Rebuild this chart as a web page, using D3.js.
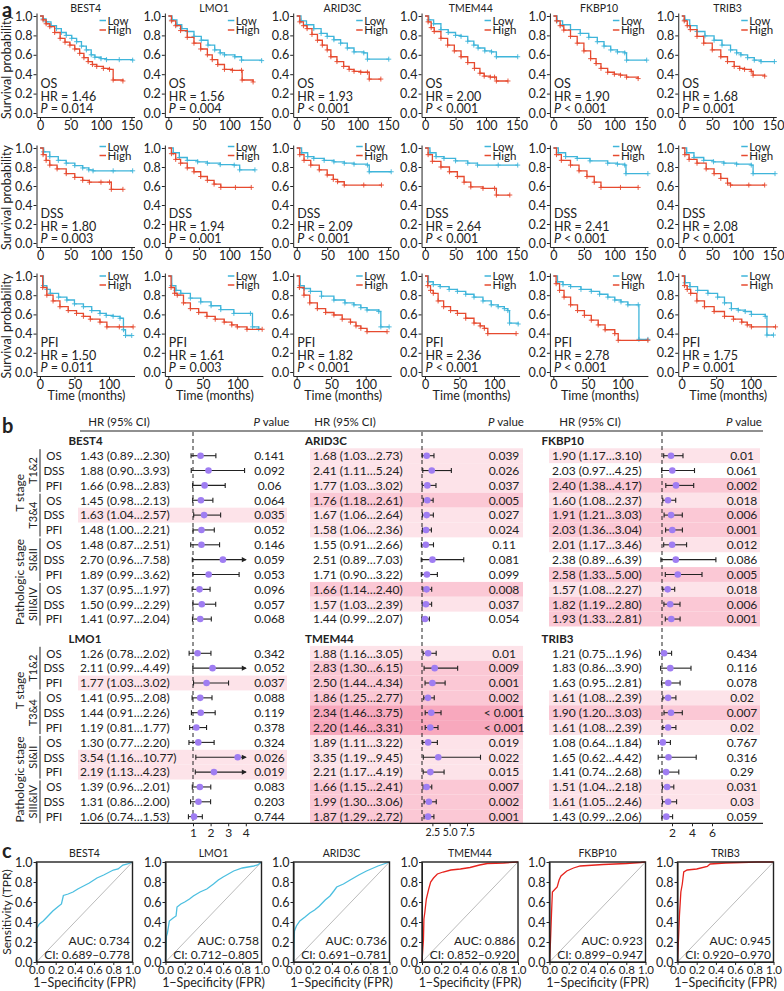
<!DOCTYPE html>
<html><head><meta charset="utf-8">
<script src="https://d3js.org/d3.v7.min.js"></script>
<style>
body{margin:0;background:#fff;}
svg text{font-family:Lato,'Open Sans',sans-serif;fill:#222;}
</style></head>
<body><svg width="784" height="991"></svg>
<script>
// ---------------- DATA ----------------
const kmGenes = ["BEST4","LMO1","ARID3C","TMEM44","FKBP10","TRIB3"];
const kmEndpoints = ["OS","DSS","PFI"];
const kmHR = [["1.46","1.56","1.93","2.00","1.90","1.68"],["1.80","1.94","2.09","2.64","2.41","2.08"],["1.50","1.61","1.82","2.36","2.78","1.75"]];
const kmP = [["= 0.014","= 0.004","< 0.001","< 0.001","< 0.001","= 0.001"],["= 0.003","= 0.001","< 0.001","< 0.001","< 0.001","< 0.001"],["= 0.011","= 0.003","< 0.001","< 0.001","< 0.001","= 0.001"]];
const kmTicksX = [[0,50,100,150],[0,50,100,150],[0,50,100]];
const survTicks = [0,0.2,0.4,0.6,0.8,1.0];

const osLow = [
 [[0,1],[5,0.97],[10,0.94],[18,0.9],[27,0.87],[35,0.83],[43,0.8],[52,0.77],[60,0.735],[68,0.69],[76,0.65],[84,0.6],[90,0.575],[100,0.56],[109,0.55],[130,0.55],[152,0.545]],
 [[0,1],[6,0.96],[14,0.91],[22,0.87],[31,0.84],[42,0.79],[54,0.75],[65,0.70],[76,0.65],[85,0.62],[92,0.60],[109,0.58],[120,0.545],[153,0.54]],
 [[0,1],[7,0.95],[16,0.91],[28,0.87],[40,0.82],[50,0.79],[61,0.755],[72,0.72],[83,0.67],[94,0.63],[110,0.62],[116,0.555],[151,0.555]],
 [[0,1],[6,0.96],[14,0.92],[26,0.86],[38,0.83],[50,0.80],[59,0.79],[70,0.74],[80,0.70],[87,0.67],[98,0.64],[109,0.63],[117,0.58],[152,0.58]],
 [[0,1],[6,0.95],[15,0.91],[28,0.86],[44,0.82],[58,0.78],[72,0.735],[83,0.69],[94,0.65],[105,0.63],[117,0.62],[120,0.545],[153,0.545]],
 [[0,1],[5,0.96],[13,0.9],[25,0.84],[38,0.795],[53,0.75],[66,0.70],[80,0.65],[90,0.62],[97,0.60],[108,0.57],[119,0.545],[130,0.53],[152,0.53]]
];
const osHigh = [
 [[0,1],[5,0.96],[10,0.92],[16,0.89],[24,0.83],[33,0.77],[41,0.73],[49,0.70],[57,0.66],[65,0.615],[72,0.57],[79,0.53],[86,0.5],[93,0.48],[104,0.46],[114,0.45],[120,0.34],[136,0.33]],
 [[0,1],[5,0.95],[12,0.9],[20,0.85],[31,0.78],[42,0.72],[53,0.66],[64,0.60],[72,0.55],[81,0.50],[92,0.45],[105,0.44],[120,0.44],[121,0.34],[139,0.32]],
 [[0,1],[5,0.94],[11,0.9],[17,0.87],[25,0.81],[34,0.75],[42,0.70],[50,0.65],[56,0.58],[66,0.53],[77,0.48],[86,0.45],[94,0.43],[105,0.42],[116,0.42],[119,0.35],[138,0.35]],
 [[0,1],[5,0.94],[10,0.88],[15,0.84],[26,0.77],[37,0.70],[48,0.64],[59,0.58],[70,0.52],[81,0.46],[90,0.41],[97,0.38],[107,0.37],[114,0.37],[117,0.33],[136,0.33]],
 [[0,1],[5,0.95],[11,0.9],[17,0.855],[28,0.79],[39,0.72],[50,0.64],[61,0.56],[70,0.51],[78,0.46],[89,0.42],[100,0.40],[110,0.39],[120,0.37],[139,0.355]],
 [[0,1],[4,0.95],[9,0.9],[14,0.86],[25,0.79],[36,0.72],[50,0.65],[64,0.58],[75,0.53],[86,0.48],[95,0.46],[103,0.45],[114,0.43],[117,0.39],[136,0.38]]
];
const dssLow = [
 [[0,1],[6,0.96],[16,0.91],[30,0.87],[43,0.84],[57,0.815],[70,0.79],[80,0.77],[87,0.76],[120,0.76],[152,0.76]],
 [[0,1],[8,0.95],[18,0.9],[31,0.87],[48,0.855],[64,0.84],[85,0.825],[108,0.82],[117,0.77],[142,0.77]],
 [[0,1],[8,0.95],[18,0.91],[28,0.89],[45,0.87],[61,0.855],[78,0.84],[94,0.83],[116,0.82],[119,0.75],[155,0.75]],
 [[0,1],[8,0.95],[18,0.91],[31,0.89],[50,0.865],[70,0.84],[86,0.82],[120,0.82],[152,0.82]],
 [[0,1],[8,0.95],[20,0.91],[39,0.89],[60,0.865],[89,0.84],[105,0.83],[117,0.82],[119,0.73],[155,0.73]],
 [[0,1],[8,0.95],[20,0.9],[36,0.87],[52,0.855],[69,0.84],[90,0.83],[114,0.82],[117,0.73],[153,0.73]]
];
const dssHigh = [
 [[0,1],[5,0.93],[10,0.87],[16,0.82],[28,0.78],[43,0.73],[57,0.69],[70,0.66],[81,0.64],[100,0.64],[114,0.64],[117,0.565],[136,0.565]],
 [[0,1],[5,0.94],[12,0.88],[20,0.84],[31,0.79],[42,0.75],[53,0.70],[64,0.66],[75,0.62],[86,0.585],[110,0.585],[136,0.585]],
 [[0,1],[5,0.93],[12,0.87],[23,0.82],[37,0.77],[50,0.716],[60,0.67],[67,0.645],[78,0.61],[110,0.61],[139,0.61]],
 [[0,1],[5,0.93],[12,0.86],[26,0.80],[40,0.75],[53,0.70],[64,0.64],[75,0.59],[95,0.575],[114,0.575],[117,0.505],[139,0.505]],
 [[0,1],[5,0.93],[13,0.87],[28,0.82],[42,0.76],[55,0.70],[67,0.64],[78,0.585],[110,0.585],[139,0.585]],
 [[0,1],[5,0.93],[12,0.88],[25,0.84],[40,0.78],[53,0.73],[64,0.68],[75,0.63],[80,0.61],[110,0.61],[136,0.61]]
];
const pfiLow = [
 [[0,1],[5,0.9],[10,0.86],[15,0.82],[27,0.78],[39,0.75],[50,0.71],[63,0.68],[75,0.64],[87,0.61],[96,0.59],[106,0.58],[116,0.56],[121,0.44],[124,0.38],[133,0.38]],
 [[0,1],[5,0.9],[11,0.85],[18,0.82],[32,0.77],[47,0.73],[62,0.69],[76,0.65],[95,0.61],[119,0.61],[122,0.47],[131,0.45]],
 [[0,1],[5,0.9],[11,0.87],[20,0.84],[36,0.79],[54,0.75],[70,0.72],[83,0.70],[93,0.67],[102,0.646],[119,0.63],[122,0.47],[134,0.47]],
 [[0,1],[5,0.94],[12,0.91],[22,0.89],[35,0.86],[47,0.84],[59,0.81],[71,0.78],[84,0.74],[96,0.70],[106,0.68],[115,0.66],[120,0.64],[122.5,0.51],[135,0.50]],
 [[0,1],[6,0.94],[14,0.91],[25,0.89],[40,0.86],[55,0.84],[67,0.81],[79,0.78],[89,0.75],[98,0.73],[108,0.70],[123,0.70],[124,0.34],[137,0.34]],
 [[0,1],[5,0.93],[12,0.89],[23,0.85],[38,0.82],[52,0.78],[62,0.72],[72,0.66],[82,0.645],[92,0.63],[101,0.60],[121,0.58],[123.5,0.385],[133,0.385]]
];
const pfiHigh = [
 [[0,1],[4,0.88],[10,0.80],[19,0.74],[29,0.68],[41,0.64],[53,0.61],[63,0.58],[73,0.55],[87,0.52],[97,0.47],[115,0.47],[135,0.47]],
 [[0,1],[4,0.88],[9,0.82],[13,0.80],[22,0.72],[32,0.66],[44,0.62],[56,0.58],[68,0.55],[81,0.52],[92,0.49],[100,0.47],[114,0.445],[136,0.445]],
 [[0,1],[4,0.88],[10.6,0.80],[19,0.72],[30,0.66],[42,0.62],[54,0.594],[66,0.55],[78,0.52],[86,0.48],[93,0.455],[102,0.42],[131,0.42]],
 [[0,1],[4,0.9],[8,0.85],[12,0.82],[19,0.74],[27,0.68],[37,0.64],[47,0.61],[59,0.56],[71,0.51],[80,0.48],[86,0.455],[91,0.40],[132,0.40]],
 [[0,1],[4,0.92],[9,0.85],[15.5,0.78],[25,0.70],[35,0.64],[45,0.59],[55,0.54],[65,0.49],[75,0.44],[89,0.40],[94,0.33],[137,0.33]],
 [[0,1],[4,0.9],[8,0.86],[13,0.82],[22,0.74],[33,0.68],[47,0.63],[62,0.58],[75,0.55],[87,0.52],[95,0.49],[101,0.47],[136,0.47]]
];

const forestGenes = ["BEST4","ARID3C","FKBP10","LMO1","TMEM44","TRIB3"];
const forestEndpoints = ["OS","DSS","PFI","OS","DSS","PFI","OS","DSS","PFI","OS","DSS","PFI"];
const stageGroups = ["T stage","Pathologic stage"];
const subGroups = ["T1&2","T3&4","SI&II","SIII&IV"];
const forestHR = [
 [1.43,1.88,1.66,1.45,1.63,1.48,1.48,2.70,1.89,1.37,1.50,1.41],
 [1.68,2.41,1.77,1.76,1.67,1.58,1.55,2.51,1.71,1.66,1.57,1.44],
 [1.90,2.03,2.40,1.60,1.91,2.03,2.01,2.38,2.58,1.57,1.82,1.93],
 [1.26,2.11,1.77,1.41,1.44,1.19,1.30,3.54,2.19,1.39,1.31,1.06],
 [1.88,2.83,2.50,1.86,2.34,2.20,1.89,3.35,2.21,1.66,1.99,1.87],
 [1.21,1.83,1.63,1.61,1.90,1.61,1.08,1.65,1.41,1.51,1.61,1.43]
];
const forestLo = [
 [0.89,0.90,0.98,0.98,1.04,1.00,0.87,0.96,0.99,0.95,0.99,0.97],
 [1.03,1.11,1.03,1.18,1.06,1.06,0.91,0.89,0.90,1.14,1.03,0.99],
 [1.17,0.97,1.38,1.08,1.21,1.36,1.17,0.89,1.33,1.08,1.19,1.33],
 [0.78,0.99,1.03,0.95,0.91,0.81,0.77,1.16,1.13,0.96,0.86,0.74],
 [1.16,1.30,1.44,1.25,1.46,1.46,1.11,1.19,1.17,1.15,1.30,1.29],
 [0.75,0.86,0.95,1.08,1.20,1.08,0.64,0.62,0.74,1.04,1.05,0.99]
];
const forestHi = [
 [2.30,3.93,2.83,2.13,2.57,2.21,2.51,7.58,3.62,1.97,2.29,2.04],
 [2.73,5.24,3.02,2.61,2.64,2.36,2.66,7.03,3.22,2.40,2.39,2.07],
 [3.10,4.25,4.17,2.37,3.03,3.04,3.46,6.39,5.00,2.27,2.80,2.81],
 [2.02,4.49,3.02,2.08,2.26,1.77,2.20,10.77,4.23,2.01,2.00,1.53],
 [3.05,6.15,4.34,2.77,3.75,3.31,3.22,9.45,4.19,2.41,3.06,2.72],
 [1.96,3.90,2.81,2.39,3.03,2.39,1.84,4.42,2.68,2.18,2.46,2.06]
];
const forestP = [
 ["0.141","0.092","0.06","0.064","0.035","0.052","0.146","0.059","0.053","0.096","0.057","0.068"],
 ["0.039","0.026","0.037","0.005","0.027","0.024","0.11","0.081","0.099","0.008","0.037","0.054"],
 ["0.01","0.061","0.002","0.018","0.006","0.001","0.012","0.086","0.005","0.018","0.006","0.001"],
 ["0.342","0.052","0.037","0.088","0.119","0.378","0.324","0.026","0.019","0.083","0.203","0.744"],
 ["0.01","0.009","0.001","0.002","< 0.001","< 0.001","0.019","0.022","0.015","0.007","0.002","0.001"],
 ["0.434","0.116","0.078","0.02","0.007","0.02","0.767","0.316","0.29","0.031","0.03","0.059"]
];
const forestTicks = [[1,2,3,4],[2.5,5,7.5],[2,4,6]];

const rocAUC = ["0.734","0.758","0.736","0.886","0.923","0.945"];
const rocCI = ["0.689–0.778","0.712–0.805","0.691–0.781","0.852–0.920","0.899–0.947","0.920–0.970"];
const rocTicks = [0,0.2,0.4,0.6,0.8,1.0];
const rocCurves = [
 [[0,0],[0,0.34],[0.01,0.35],[0.03,0.38],[0.07,0.41],[0.12,0.46],[0.17,0.51],[0.22,0.55],[0.26,0.58],[0.28,0.665],[0.33,0.68],[0.38,0.70],[0.43,0.73],[0.49,0.76],[0.55,0.79],[0.63,0.84],[0.70,0.87],[0.80,0.92],[0.85,0.93],[0.90,0.97],[0.95,0.98],[1,1]],
 [[0,0],[0.01,0.26],[0.02,0.29],[0.04,0.41],[0.08,0.44],[0.11,0.46],[0.12,0.55],[0.16,0.58],[0.2,0.6],[0.25,0.63],[0.29,0.66],[0.36,0.70],[0.43,0.73],[0.5,0.78],[0.55,0.82],[0.6,0.85],[0.71,0.91],[0.8,0.94],[0.92,0.96],[0.96,0.97],[1,1]],
 [[0,0],[0.01,0.31],[0.03,0.36],[0.066,0.41],[0.12,0.45],[0.17,0.49],[0.22,0.52],[0.27,0.56],[0.33,0.62],[0.38,0.66],[0.42,0.71],[0.45,0.75],[0.52,0.78],[0.59,0.82],[0.68,0.87],[0.76,0.91],[0.88,0.96],[1,1]],
 [[0,0],[0.01,0.15],[0.015,0.22],[0.02,0.43],[0.03,0.50],[0.045,0.63],[0.07,0.73],[0.09,0.80],[0.12,0.84],[0.16,0.88],[0.22,0.90],[0.30,0.92],[0.40,0.93],[0.50,0.945],[0.60,0.97],[0.68,0.985],[0.85,0.99],[1,1]],
 [[0,0],[0.01,0.2],[0.02,0.46],[0.03,0.70],[0.05,0.72],[0.08,0.75],[0.1,0.82],[0.12,0.86],[0.18,0.91],[0.25,0.94],[0.32,0.96],[0.56,0.975],[0.8,0.985],[0.95,0.995],[1,1]],
 [[0,0],[0.01,0.22],[0.02,0.46],[0.035,0.70],[0.05,0.78],[0.065,0.90],[0.1,0.92],[0.2,0.93],[0.31,0.955],[0.34,0.98],[0.5,0.99],[0.83,1.0],[1,1]]
];

// ---------------- DRAW ----------------
const svg = d3.select("svg");
const BLUE = "#3fb5da", RED = "#e64a2f", ROCBLUE = "#4cbfe0", ROCRED = "#e6231d";
const INK = "#222";

function styleAxis(sel, fs){
  sel.attr("font-family", null).attr("font-size", null);
  sel.selectAll("path").attr("stroke", INK).attr("stroke-width", 1);
  sel.selectAll("line").attr("stroke", INK).attr("stroke-width", 1);
  sel.selectAll("text").attr("fill", INK).style("font-size", fs + "px");
}

// panel letters
[["a",2,17],["b",2,433],["c",2,858]].forEach(([t,x,y]) =>
  svg.append("text").attr("x",x).attr("y",y).text(t).style("font-size","20px").style("font-weight","bold"));

// ---- Panel a: KM ----
const kmSets = [[osLow,osHigh],[dssLow,dssHigh],[pfiLow,pfiHigh]];
const kmXA = [36.5,164.85,293.2,421.55,549.9,678.25];
const kmY0 = [113,243,372], kmY1 = [16,148,276];
const kmXDom = [[-5.8,155],[-5.8,155],[-5,137]];
const legY = [[20.5,30],[146.5,155.5],[276,285]];

kmEndpoints.forEach((ep, r) => {
  const y0 = kmY0[r], y1 = kmY1[r], span = y0 - y1;
  svg.append("text").attr("transform", `translate(11,${(y0+y1)/2+2}) rotate(-90)`)
    .attr("text-anchor","middle").text("Survival probability").style("font-size","12.5px");
  kmGenes.forEach((gene, c) => {
    const xa = kmXA[c];
    const g = svg.append("g");
    const x = d3.scaleLinear().domain(kmXDom[r]).range([xa, xa+98]);
    const y = d3.scaleLinear().domain([-4/span, 1+3/span]).range([y0+4, y1-3]);
    g.append("g").attr("transform",`translate(${xa},0)`)
      .call(d3.axisLeft(y).tickValues(survTicks).tickFormat(d3.format(".1f")).tickSize(3).tickPadding(1).tickSizeOuter(0))
      .call(styleAxis, 12.5);
    g.append("g").attr("transform",`translate(0,${y0+4})`)
      .call(d3.axisBottom(x).tickValues(kmTicksX[r]).tickSize(3).tickPadding(1).tickSizeOuter(0))
      .call(styleAxis, 12.5);
    const line = d3.line().curve(d3.curveStepAfter).x(d=>x(d[0])).y(d=>y(d[1]));
    [[kmSets[r][0][c], BLUE],[kmSets[r][1][c], RED]].forEach(([data,col]) => {
      g.append("path").attr("d", line(data)).attr("fill","none").attr("stroke",col).attr("stroke-width",1.3);
      g.append("path").attr("d", data.slice(1).map(d=>`M${x(d[0])-2.5},${y(d[1])}h5M${x(d[0])},${y(d[1])-2.5}v5`).join(""))
        .attr("stroke",col).attr("stroke-width",0.9).attr("fill","none");
    });
    // legend
    [["Low",BLUE,legY[r][0]],["High",RED,legY[r][1]]].forEach(([lab,col,ly]) => {
      g.append("line").attr("x1",xa+63).attr("x2",xa+69.5).attr("y1",ly).attr("y2",ly).attr("stroke",col).attr("stroke-width",1.5);
      g.append("text").attr("x",xa+71).attr("y",ly+4).text(lab).style("font-size","11.5px");
    });
    // stats
    g.append("text").attr("x",xa+4).attr("y",y0-25).text(ep).style("font-size","12.5px");
    g.append("text").attr("x",xa+4).attr("y",y0-12).text(`HR = ${kmHR[r][c]}`).style("font-size","12.5px");
    const pt = g.append("text").attr("x",xa+4).attr("y",y0-0.5).style("font-size","12.5px");
    pt.append("tspan").text("P").style("font-style","italic");
    pt.append("tspan").text(" " + kmP[r][c]);
    if (r === 0) g.append("text").attr("x", x(75)).attr("y", 11.5).attr("text-anchor","middle").text(gene).style("font-size","10.5px");
    if (r === 2) g.append("text").attr("x", xa+50).attr("y", 399.5).attr("text-anchor","middle").text("Time (months)").style("font-size","12.5px");
  });
});

// ---- Panel b: forest ----
const fb = {hrX:[80,313,552], p1:[193,422,662], pEnd:[245.8,467,712], dMax:[4,7.5,6], pC:[269.5,504,742],
            hlX:[78,310,549], hlW:[209,213,211], hdrHR:[119,345,590], geneX:[68.5,305,541.5]};
const rowY0 = [455.7,653.3], geneY = [441,639], rowH = 14.85;
const fScales = [0,1,2].map(b => d3.scaleLinear().domain([1, fb.dMax[b]]).range([fb.p1[b], fb.pEnd[b]]));
const clipMax = [4.0, Infinity, Infinity];
const pNum = s => s.startsWith("<") ? 0.0005 : +s;
const shade = p => p < 0.001 ? "#f8a8bd" : p < 0.01 ? "#fbc8d5" : p < 0.05 ? "#fde3e9" : null;

// header
[0,1,2].forEach(b => {
  svg.append("text").attr("x",fb.hdrHR[b]).attr("y",426).attr("text-anchor","middle").text("HR (95% CI)").style("font-size","11.5px");
  const t = svg.append("text").attr("x",fb.pC[b]+2).attr("y",426).attr("text-anchor","middle").style("font-size","11.5px");
  t.append("tspan").text("P").style("font-style","italic");
  t.append("tspan").text(" value");
});
svg.append("line").attr("x1",80).attr("x2",763).attr("y1",431).attr("y2",431).attr("stroke",INK).attr("stroke-width",1.2);

forestGenes.forEach((gene, gi) => {
  const b = gi % 3, half = Math.floor(gi/3);
  svg.append("text").attr("x",fb.geneX[b]).attr("y",geneY[half]+4).text(gene).style("font-size","11.5px").style("font-weight","bold");
  forestHR[gi].forEach((hr, i) => {
    const yc = rowY0[half] + i*rowH;
    const col = shade(pNum(forestP[gi][i]));
    if (col) svg.append("rect").attr("x",fb.hlX[b]).attr("y",yc-rowH/2).attr("width",fb.hlW[b]).attr("height",rowH).attr("fill",col);
  });
});
// dashed reference lines
[0,1,2].forEach(b => svg.append("line").attr("x1",fb.p1[b]).attr("x2",fb.p1[b]).attr("y1",432).attr("y2",823)
  .attr("stroke",INK).attr("stroke-width",1).attr("stroke-dasharray","4,3"));

forestGenes.forEach((gene, gi) => {
  const b = gi % 3, half = Math.floor(gi/3);
  const xs = fScales[b];
  forestHR[gi].forEach((hr, i) => {
    const yc = rowY0[half] + i*rowH;
    const lo = forestLo[gi][i], hi = forestHi[gi][i];
    svg.append("text").attr("x",fb.hrX[b]).attr("y",yc+4.3)
      .text(`${hr.toFixed(2)} (${lo.toFixed(2)}…${hi.toFixed(2)})`).style("font-size","12px");
    svg.append("text").attr("x",fb.pC[b]).attr("y",yc+4.3).attr("text-anchor","middle").text(forestP[gi][i]).style("font-size","12px");
    const xl = xs(lo), xr = xs(Math.min(hi, clipMax[b]));
    svg.append("line").attr("x1",xl).attr("x2",xr).attr("y1",yc).attr("y2",yc).attr("stroke",INK).attr("stroke-width",1.1);
    svg.append("line").attr("x1",xl).attr("x2",xl).attr("y1",yc-2.5).attr("y2",yc+2.5).attr("stroke",INK).attr("stroke-width",1.1);
    if (hi > clipMax[b]) {
      svg.append("path").attr("d",`M${xr+1},${yc}L${xr-4},${yc-2.6}L${xr-4},${yc+2.6}Z`).attr("fill",INK);
    } else {
      svg.append("line").attr("x1",xr).attr("x2",xr).attr("y1",yc-2.5).attr("y2",yc+2.5).attr("stroke",INK).attr("stroke-width",1.1);
    }
    svg.append("circle").attr("cx",xs(hr)).attr("cy",yc).attr("r",3.3).attr("fill","#9f7df2");
  });
});

// left labels
[0,1].forEach(half => {
  const ry = i => rowY0[half] + i*rowH;
  forestEndpoints.forEach((ep,i) => svg.append("text").attr("x",54).attr("y",ry(i)+4.3).attr("text-anchor","middle").text(ep).style("font-size","11.5px"));
  stageGroups.forEach((sg, k) => {
    const yc = (ry(k*6) + ry(k*6+5))/2;
    svg.append("text").attr("transform",`translate(24,${yc}) rotate(-90)`).attr("text-anchor","middle").text(sg).style("font-size","12px");
  });
  subGroups.forEach((sg, k) => {
    const ya = ry(k*3) - 6.5, yb = ry(k*3+2) + 6.5;
    svg.append("text").attr("transform",`translate(37,${(ya+yb)/2}) rotate(-90)`).attr("text-anchor","middle").text(sg).style("font-size","11px");
    svg.append("line").attr("x1",40).attr("x2",40).attr("y1",ya).attr("y2",yb).attr("stroke",INK).attr("stroke-width",1);
  });
});

// bottom axis
svg.append("line").attr("x1",80).attr("x2",763).attr("y1",823.3).attr("y2",823.3).attr("stroke",INK).attr("stroke-width",1.2);
[0,1,2].forEach(b => {
  const ax = svg.append("g").attr("transform","translate(0,823.3)")
    .call(d3.axisBottom(fScales[b]).tickValues(forestTicks[b]).tickFormat(b===1?d3.format(".1f"):d3.format("d")).tickSize(3).tickPadding(2))
    .call(styleAxis, b===1 ? 10.5 : 12);
  ax.select(".domain").remove();
});

// ---- Panel c: ROC ----
const rocX0 = [36.5,165.5,293.5,422,549.5,677.5], rocW = 96, rocTop = 862, rocBot = 962;
svg.append("text").attr("transform",`translate(11,${(rocTop+rocBot)/2}) rotate(-90)`).attr("text-anchor","middle").text("Sensitivity (TPR)").style("font-size","12px");
kmGenes.forEach((gene, c) => {
  const x0 = rocX0[c];
  const x = d3.scaleLinear().domain([0,1]).range([x0, x0+rocW]);
  const y = d3.scaleLinear().domain([0,1]).range([rocBot, rocTop]);
  const g = svg.append("g");
  g.append("line").attr("x1",x(0)).attr("y1",y(0)).attr("x2",x(1)).attr("y2",y(1)).attr("stroke","#bbb").attr("stroke-width",1);
  g.append("path").attr("d", d3.line().x(d=>x(d[0])).y(d=>y(d[1]))(rocCurves[c]))
    .attr("fill","none").attr("stroke", c<3?ROCBLUE:ROCRED).attr("stroke-width",1.3);
  g.append("rect").attr("x",x0).attr("y",rocTop).attr("width",rocW).attr("height",rocBot-rocTop).attr("fill","none").attr("stroke",INK).attr("stroke-width",1.4);
  g.append("g").attr("transform",`translate(${x0},0)`)
    .call(d3.axisLeft(y).tickValues(rocTicks).tickFormat(d3.format(".1f")).tickSize(3).tickPadding(1).tickSizeOuter(0))
    .call(styleAxis, 12.5);
  g.append("g").attr("transform",`translate(0,${rocBot})`)
    .call(d3.axisBottom(x).tickValues(rocTicks).tickFormat(d3.format(".1f")).tickSize(3).tickPadding(1).tickSizeOuter(0))
    .call(styleAxis, 11.5);
  g.append("text").attr("x",x0+rocW/2).attr("y",857).attr("text-anchor","middle").text(gene).style("font-size","10.5px");
  g.append("text").attr("x",x0+rocW-2.5).attr("y",945).attr("text-anchor","end").text(`AUC: ${rocAUC[c]}`).style("font-size","12px");
  g.append("text").attr("x",x0+rocW-2.5).attr("y",959).attr("text-anchor","end").text(`CI: ${rocCI[c]}`).style("font-size","12px");
  g.append("text").attr("x",x0+rocW/2).attr("y",987).attr("text-anchor","middle").text("1−Specificity (FPR)").style("font-size","12.5px");
});
</script></body></html>
